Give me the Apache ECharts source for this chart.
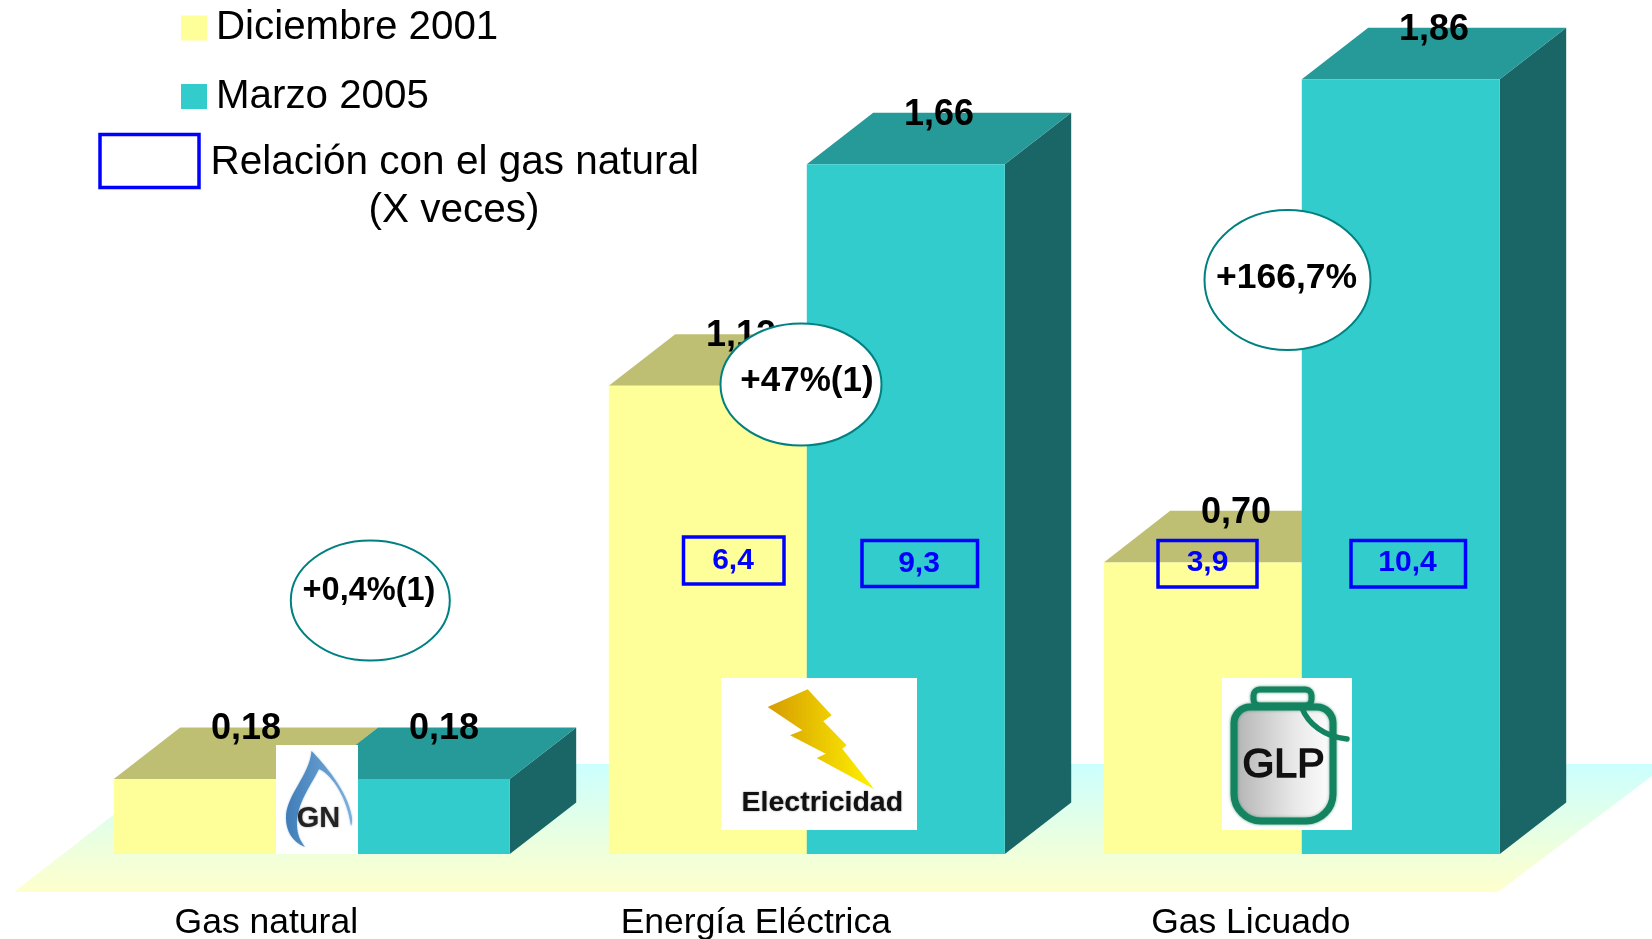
<!DOCTYPE html>
<html>
<head>
<meta charset="utf-8">
<title>Relación con el gas natural</title>
<script src="https://cdn.jsdelivr.net/npm/echarts@6/dist/echarts.min.js"></script>
<style>
  html, body { margin: 0; padding: 0; background: #fff; }
  #chart { width: 1652px; height: 939px; }
</style>
</head>
<body>
<div id="chart"></div>
<script>
const categories = ['Gas natural', 'Energía Eléctrica', 'Gas Licuado']
// bar heights, they round to the printed labels
const dic2001 = [0.18, 1.124, 0.70]
const mar2005 = [0.18, 1.656, 1.86]
const ratio2001 = ['6,4', '3,9']
const ratio2005 = ['9,3', '10,4']
const variation = ['+0,4%(1)', '+47%(1)', '+166,7%']

const FONT = '"Liberation Sans", Arial, sans-serif'
const DX = 66.4
const DY = 51.6

const chart = echarts.init(document.getElementById('chart'))

// the graphic component has no plain path type, so the flame is registered as a shape
echarts.graphic.registerShape('gnFlame', echarts.graphic.extendPath(
  'M311.5 751C322 762 348 790 352 818C352 822 352 824 351 826C348 800 333 775 319 769C311 785 296 805 297 825C297 835 301 842 305 847C292 842 286 830 286 818C286 795 310 775 311.5 751Z'
))

// front, top and side face of one 3D column; slot -1 = left of the band centre, 0 = right
function column(front, top, side, slot) {
  return (params, api) => {
    const base = api.coord([api.value(0), 0])
    const head = api.coord([api.value(0), api.value(1)])
    const w = api.size([1, 0])[0] * 0.4
    const x0 = base[0] + slot * w
    const x1 = x0 + w
    const y0 = head[1]
    const y1 = base[1]
    return {
      type: 'group',
      children: [
        { type: 'polygon', shape: { points: [[x1, y0], [x1 + DX, y0 - DY], [x1 + DX, y1 - DY], [x1, y1]] }, style: { fill: side } },
        { type: 'polygon', shape: { points: [[x0, y0], [x0 + DX, y0 - DY], [x1 + DX, y0 - DY], [x1, y0]] }, style: { fill: top } },
        { type: 'rect', shape: { x: x0, y: y0, width: w, height: y1 - y0 }, style: { fill: front } },
        {
          type: 'text',
          z2: 5,
          style: {
            text: api.value(1).toFixed(2).replace('.', ','),
            x: (x0 + x1) / 2 + DX / 2,
            y: y0 - DY + 2,
            align: 'center',
            verticalAlign: 'middle',
            font: 'bold 36px ' + FONT,
            fill: '#000',
          },
        },
      ],
    }
  }
}

function label(text, x, y, font, fill, align, extra) {
  return {
    type: 'text',
    z: 102,
    style: Object.assign({
      text, x, y: y + 2, font: font + ' ' + FONT, fill: fill || '#000',
      align: align || 'center', verticalAlign: 'middle',
    }, extra || {}),
  }
}

function ratioBox(x0, x1, y0, y1, text, tx, ty) {
  return [
    { type: 'rect', z: 100, shape: { x: x0, y: y0, width: x1 - x0, height: y1 - y0 }, style: { fill: 'transparent', stroke: '#0000ff', lineWidth: 3.5 } },
    label(text, tx, ty - 1, 'bold 30px', '#0000ff'),
  ]
}

function bubble(cx, cy, rx, ry, text, tx, ty, size) {
  return [
    { type: 'ellipse', z: 100, shape: { cx, cy, rx, ry }, style: { fill: '#fff', stroke: '#008080', lineWidth: 2 } },
    label(text, tx, ty, 'bold ' + size + 'px', '#000'),
  ]
}

const floor = {
  type: 'polygon',
  z: 1,
  shape: { points: [[14, 892], [179, 764], [1652, 764], [1652, 776], [1498, 892]] },
  style: {
    fill: new echarts.graphic.LinearGradient(0, 0, 0, 1, [
      { offset: 0, color: '#ccffff' },
      { offset: 1, color: '#ffffcc' },
    ]),
  },
}

const blur = { textShadowColor: 'rgba(0,0,0,0.45)', textShadowBlur: 2 }

const gnIcon = [
  { type: 'rect', z: 100, shape: { x: 276, y: 745, width: 82, height: 109 }, style: { fill: '#fff' } },
  {
    type: 'gnFlame',
    z: 101,
    shape: {},
    style: {
      shadowColor: 'rgba(70,130,190,0.6)',
      shadowBlur: 2,
      fill: new echarts.graphic.LinearGradient(0, 0, 1, 0, [
        { offset: 0, color: '#3f7db8' },
        { offset: 1, color: '#7cb0dc' },
      ]),
    },
  },
  label('GN', 318.5, 817, 'bold 29px', '#222', 'center', blur),
]

const elecIcon = [
  { type: 'rect', z: 100, shape: { x: 721, y: 678, width: 196, height: 152 }, style: { fill: '#fff' } },
  {
    type: 'polygon',
    z: 101,
    shape: { points: [[767.7, 707], [807.7, 689.3], [831.7, 715.3], [823.3, 721.3], [846.7, 745.3], [842.3, 748.7], [874.3, 789.3], [816.7, 758], [825.7, 753.7], [790, 735.3], [802.3, 730.3]] },
    style: {
      fill: new echarts.graphic.LinearGradient(0, 0, 1, 0, [
        { offset: 0, color: '#d69c00' },
        { offset: 1, color: '#fff200' },
      ]),
    },
  },
  label('Electricidad', 822.3, 801.5, 'bold 28.5px', '#111', 'center', blur),
]

const glpGreen = '#14835f'
const soft = { shadowColor: 'rgba(20,131,95,0.7)', shadowBlur: 3 }
const glpIcon = [
  { type: 'rect', z: 100, shape: { x: 1222, y: 678, width: 130, height: 152 }, style: { fill: '#fff' } },
  { type: 'rect', z: 101, shape: { x: 1253.5, y: 689.5, width: 58, height: 16, r: 6 }, style: { fill: '#fff', stroke: glpGreen, lineWidth: 6, ...soft } },
  {
    type: 'rect',
    z: 101,
    shape: { x: 1234, y: 707, width: 99, height: 114, r: [16, 16, 27, 27] },
    style: {
      stroke: glpGreen,
      lineWidth: 7,
      ...soft,
      fill: new echarts.graphic.LinearGradient(0, 0, 1, 0, [
        { offset: 0, color: '#b0b0b0' },
        { offset: 0.6, color: '#e8e8e8' },
        { offset: 1, color: '#ffffff' },
      ]),
    },
  },
  {
    type: 'bezierCurve',
    z: 102,
    shape: { x1: 1302, y1: 708, cpx1: 1308, cpy1: 724, cpx2: 1325, cpy2: 737, x2: 1347, y2: 739 },
    style: { fill: 'none', stroke: glpGreen, lineWidth: 5.5, lineCap: 'round' },
  },
  label('GLP', 1283.5, 763.5, '41px', '#111', 'center', { stroke: '#111', lineWidth: 1.6 }),
]

chart.setOption({
  backgroundColor: '#fff',
  animation: false,
  legend: {
    data: [
      { name: 'Diciembre 2001', icon: 'rect' },
      { name: 'Marzo 2005', icon: 'rect' },
    ],
    orient: 'vertical',
    left: 181,
    top: 8,
    padding: 0,
    itemWidth: 26,
    itemHeight: 25,
    itemGap: 28.5,
    selectedMode: false,
    textStyle: { fontFamily: FONT, fontSize: 40.3, color: '#000', padding: [4, 0, 0, 4] },
  },
  grid: { left: 64.3, right: 102.7, top: 21, bottom: 85, outerBoundsMode: 'none' },
  xAxis: {
    type: 'category',
    data: categories,
    axisLine: { show: false },
    axisTick: { show: false },
    axisLabel: {
      margin: 51,
      // the names sit left of their band centre in the picture
      formatter: (v, i) => (i === 0 ? '{near|' + v + '}' : '{far|' + v + '}'),
      rich: {
        near: { color: '#000', fontFamily: FONT, fontSize: 35.5, padding: [0, 91, 0, 0] },
        far: { color: '#000', fontFamily: FONT, fontSize: 35.5, padding: [0, 102, 0, 0] },
      },
    },
  },
  yAxis: { type: 'value', min: 0, max: 2, show: false },
  series: [
    {
      name: 'Diciembre 2001',
      type: 'custom',
      renderItem: column('#ffff99', '#bfbf73', '#bfbf73', -1),
      itemStyle: { color: '#ffff99' },
      data: dic2001.map((v, i) => [i, v]),
      encode: { x: 0, y: 1 },
    },
    {
      name: 'Marzo 2005',
      type: 'custom',
      renderItem: column('#33cccc', '#269999', '#1a6666', 0),
      itemStyle: { color: '#33cccc' },
      data: mar2005.map((v, i) => [i, v]),
      encode: { x: 0, y: 1 },
    },
  ],
  graphic: {
    elements: [
      floor,
      ...gnIcon,
      ...elecIcon,
      ...glpIcon,
      ...bubble(370.3, 600.5, 79.5, 60, variation[0], 369, 589, 32.5),
      ...bubble(801, 384.5, 80.5, 61, variation[1], 807, 379, 35),
      ...bubble(1287.5, 280, 83, 70, variation[2], 1286.5, 276, 35.5),
      ...ratioBox(683.5, 784, 537, 584, ratio2001[0], 733, 560),
      ...ratioBox(862, 977.5, 540.5, 586.5, ratio2005[0], 919, 562.5),
      ...ratioBox(1158, 1257, 540.5, 587, ratio2001[1], 1207.5, 561.5),
      ...ratioBox(1351, 1465.5, 540.5, 587, ratio2005[1], 1407.5, 561.5),
      { type: 'rect', z: 100, shape: { x: 100, y: 134.5, width: 99, height: 53 }, style: { fill: 'transparent', stroke: '#0000ff', lineWidth: 3.5 } },
      label('Relación con el gas natural', 210.5, 161, '40.5px', '#000', 'left'),
      label('(X veces)', 454, 209, '40.5px', '#000'),
    ],
  },
})

window.addEventListener('resize', () => chart.resize())
</script>
</body>
</html>
